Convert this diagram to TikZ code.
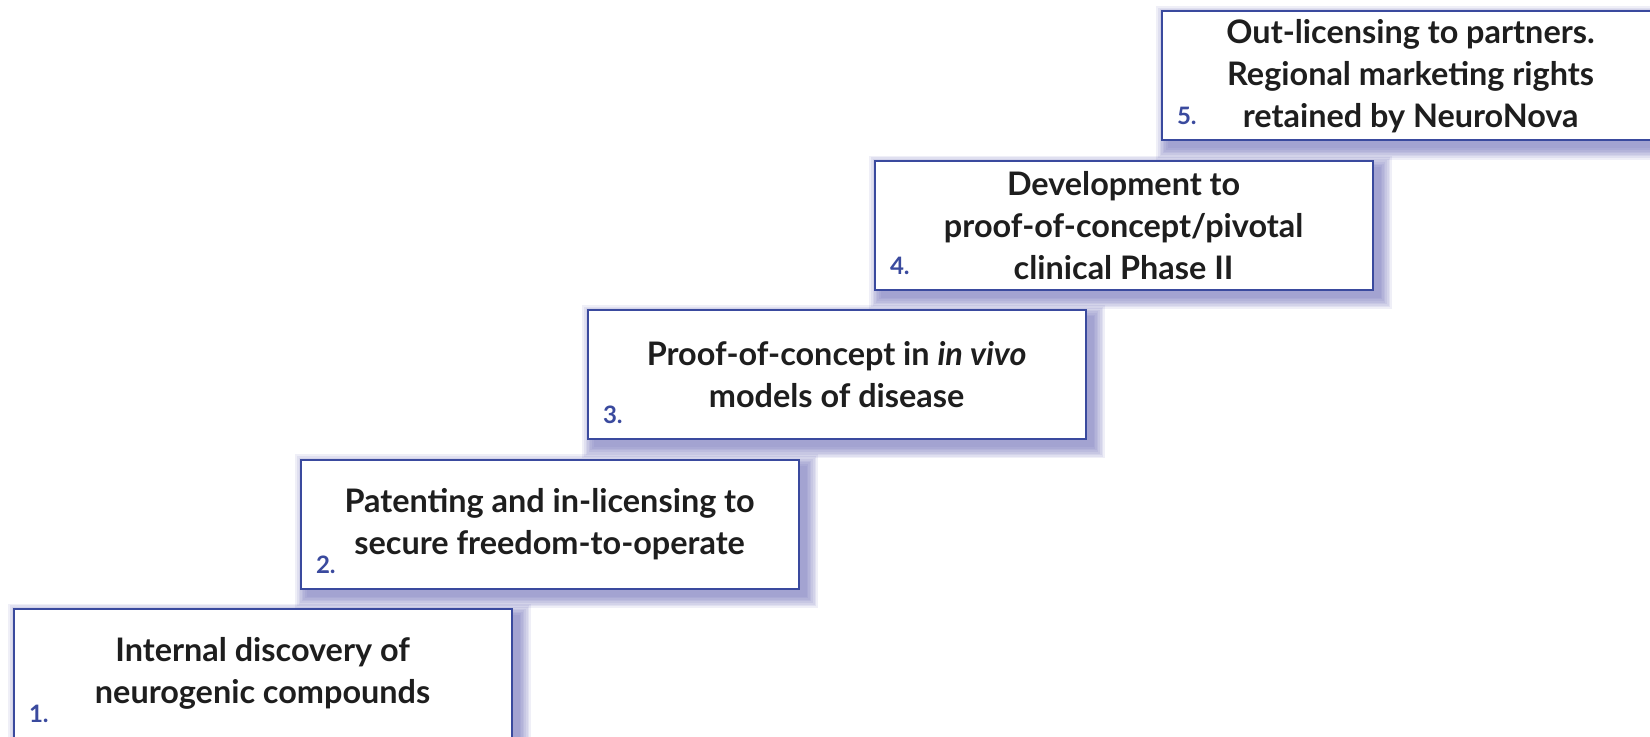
\documentclass[tikz,border=0pt]{standalone}
\usepackage{fontspec}
\setmainfont{Lato}
\usetikzlibrary{positioning}
\definecolor{stepblue}{RGB}{58,74,158}
\definecolor{shadowblue}{RGB}{95,95,175}
\definecolor{textgrey}{RGB}{30,30,30}
\pgfdeclarelayer{background}
\pgfsetlayers{background,main}

\begin{document}
\begin{tikzpicture}[
stepbox/.style={rectangle, draw=stepblue, line width=1pt, fill=white,
  minimum width=249pt, minimum height=64.5pt, inner sep=0pt, align=center,
  text=textgrey, font=\fontsize{16.2}{21}\selectfont\bfseries},
numlabel/.style={anchor=west, inner sep=0pt, text=stepblue,
  font=\fontsize{12}{14}\selectfont\bfseries},
softshadow/.style={fill=shadowblue, opacity=0.1},
node distance=9.2pt and 143.5pt]
\useasboundingbox (0,0) rectangle (825pt,368pt);
% Steps
\node[stepbox, anchor=north west] (s1) at (6.3pt,64pt) {Internal discovery of\\neurogenic compounds};
\node[stepbox, above right=of s1.north west] (s2) {Patenting and in-licensing to\\secure freedom-to-operate};
\node[stepbox, above right=of s2.north west] (s3) {Proof-of-concept in \textit{in vivo}\\models of disease};
\node[stepbox, above right=of s3.north west] (s4) {Development to\\proof-of-concept/pivotal\\clinical Phase II};
\node[stepbox, above right=of s4.north west] (s5) {Out-licensing to partners.\\Regional marketing rights\\retained by NeuroNova};
% Numbers
\node[numlabel] (n1) at ([shift={(8pt,12.5pt)}]s1.south west) {1.};
\node[numlabel] (n2) at ([shift={(8pt,12.5pt)}]s2.south west) {2.};
\node[numlabel] (n3) at ([shift={(8pt,12.5pt)}]s3.south west) {3.};
\node[numlabel] (n4) at ([shift={(8pt,12.5pt)}]s4.south west) {4.};
\node[numlabel] (n5) at ([shift={(8pt,12.5pt)}]s5.south west) {5.};
% Shadows
\begin{pgfonlayer}{background}
\foreach \s in {s1,s2,s3,s4,s5}
  \foreach \r in {0,1,...,7}
    \fill[softshadow] ([shift={(3.5pt-\r*0.8pt,-3.5pt-\r*0.8pt)}]\s.south west)
      rectangle ([shift={(3.5pt+\r*0.8pt,-3.5pt+\r*0.8pt)}]\s.north east);
\end{pgfonlayer}
\end{tikzpicture}
\end{document}
